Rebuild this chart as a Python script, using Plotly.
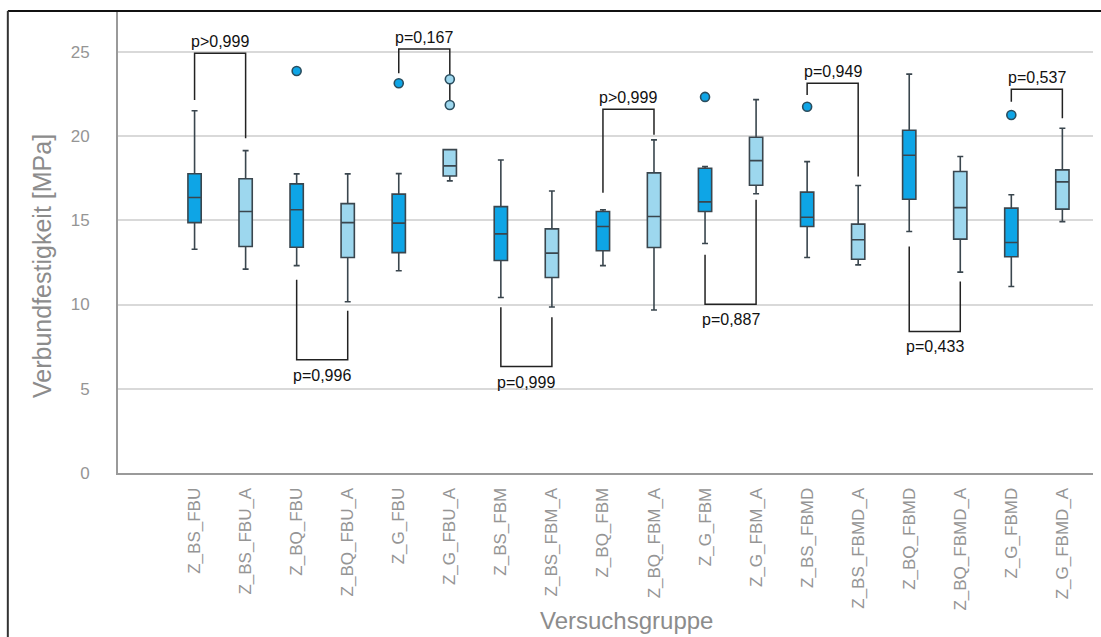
import plotly.graph_objects as go

categories = ["Z_BS_FBU", "Z_BS_FBU_A", "Z_BQ_FBU", "Z_BQ_FBU_A", "Z_G_FBU", "Z_G_FBU_A",
              "Z_BS_FBM", "Z_BS_FBM_A", "Z_BQ_FBM", "Z_BQ_FBM_A", "Z_G_FBM", "Z_G_FBM_A",
              "Z_BS_FBMD", "Z_BS_FBMD_A", "Z_BQ_FBMD", "Z_BQ_FBMD_A", "Z_G_FBMD", "Z_G_FBMD_A"]
upper = [21.5, 19.13, 17.75, 17.75, 17.77, 19.19, 18.58, 16.74, 15.62, 19.77, 18.19, 22.16,
         18.48, 17.06, 23.67, 18.78, 16.51, 20.46]
q3 = [17.76, 17.46, 17.16, 15.99, 16.55, 19.19, 15.81, 14.49, 15.52, 17.81, 18.09, 19.93,
      16.67, 14.77, 20.34, 17.89, 15.72, 17.99]
median = [16.35, 15.52, 15.62, 14.86, 14.83, 18.23, 14.19, 13.05, 14.63, 15.22, 16.09, 18.54,
          15.18, 13.84, 18.86, 15.75, 13.68, 17.28]
q1 = [14.86, 13.44, 13.40, 12.79, 13.08, 17.63, 12.61, 11.60, 13.19, 13.38, 15.52, 17.08,
      14.63, 12.69, 16.25, 13.88, 12.83, 15.66]
lower = [13.28, 12.10, 12.31, 10.16, 12.00, 17.34, 10.42, 9.85, 12.31, 9.67, 13.62, 16.57,
         12.79, 12.35, 14.33, 11.92, 11.07, 14.92]

# outliers: (category index, value)
outlier_idx = [2, 4, 5, 5, 10, 12, 16]
outlier_val = [23.86, 23.13, 23.37, 21.84, 22.32, 21.74, 21.25]

# comparison brackets
br_left = [0, 2, 4, 6, 8, 10, 12, 14, 16]
br_right = [1, 3, 5, 7, 9, 11, 13, 15, 17]
br_level = [24.91, 6.72, 25.17, 6.32, 21.59, 10.01, 23.13, 8.40, 22.78]
br_left_end = [22.14, 11.47, 23.72, 9.84, 16.64, 12.95, 22.43, 13.44, 22.04]
br_right_end = [19.87, 9.63, 21.84, 9.25, 20.07, 16.21, 17.59, 11.36, 21.05]
br_above = [True, False, True, False, True, False, True, False, True]
br_text = ["p>0,999", "p=0,996", "p=0,167", "p=0,999", "p>0,999", "p=0,887", "p=0,949",
           "p=0,433", "p=0,537"]

y_ticks = [0, 5, 10, 15, 20, 25]

DARK = "#0ea5e6"
LIGHT = "#9dd7ee"
EDGE = "#3a464e"
FONT = "Liberation Sans, Arial"

fig = go.Figure()

for grp, color in [(0, DARK), (1, LIGHT)]:
    idx = [i for i in range(len(categories)) if i % 2 == grp]
    fig.add_trace(go.Box(
        x=idx,
        q1=[q1[i] for i in idx], median=[median[i] for i in idx], q3=[q3[i] for i in idx],
        lowerfence=[lower[i] for i in idx], upperfence=[upper[i] for i in idx],
        width=0.26, whiskerwidth=0.45, fillcolor=color,
        line=dict(color=EDGE, width=1.6), boxpoints=False, showlegend=False,
        hoverinfo="skip",
    ))

# bracket lines
for k in range(len(br_left)):
    xl, xr = br_left[k], br_right[k]
    fig.add_trace(go.Scatter(
        x=[xl, xl, xr, xr], y=[br_left_end[k], br_level[k], br_level[k], br_right_end[k]],
        mode="lines", line=dict(color="#222222", width=1.5), showlegend=False, hoverinfo="skip"))
    fig.add_annotation(
        x=(xl + xr) / 2, y=br_level[k], text=br_text[k], showarrow=False,
        yanchor="bottom" if br_above[k] else "top", yshift=1 if br_above[k] else -5,
        font=dict(family=FONT, size=16, color="#111111"))

# outliers
fig.add_trace(go.Scatter(
    x=outlier_idx, y=outlier_val, mode="markers",
    marker=dict(size=9, color=[DARK if i % 2 == 0 else LIGHT for i in outlier_idx],
                line=dict(color="#2a4d5e", width=1.6)),
    showlegend=False, hoverinfo="skip"))

fig.update_layout(
    width=1101, height=637,
    margin=dict(l=118, r=8, t=12, b=164),
    paper_bgcolor="white", plot_bgcolor="white",
    font=dict(family=FONT, color="#8c8c8c"),
    xaxis=dict(range=[-1.5, 17.6], tickvals=list(range(len(categories))), ticktext=categories,
               tickangle=-90, tickfont=dict(size=17, color="#959595"),
               showgrid=False, zeroline=False, showline=True, linecolor="#9a9a9a", linewidth=2,
               ticks="outside", ticklen=6, tickcolor="rgba(0,0,0,0)"),
    yaxis=dict(range=[0, 27.36], tickvals=y_ticks, tickfont=dict(size=17, color="#959595"),
               showgrid=True, gridcolor="#d9d9d9", gridwidth=2, zeroline=False,
               showline=True, linecolor="#9a9a9a", linewidth=2,
               ticks="outside", ticklen=23, tickcolor="rgba(0,0,0,0)"),
    shapes=[
        dict(type="line", xref="paper", yref="paper", x0=-0.113, x1=1.01, y0=1.002, y1=1.002,
             line=dict(color="#111111", width=2)),
        dict(type="line", xref="paper", yref="paper", x0=-0.113, x1=-0.113, y0=1.002, y1=-0.36,
             line=dict(color="#333333", width=2)),
    ],
)

fig.add_annotation(xref="paper", yref="paper", x=-0.078, y=0.449, text="Verbundfestigkeit [MPa]",
                   textangle=-90, showarrow=False, xanchor="center", yanchor="middle",
                   font=dict(family=FONT, size=25, color="#8c8c8c"))
fig.add_annotation(xref="paper", yref="paper", x=0.522, y=-0.319, text="Versuchsgruppe",
                   showarrow=False, xanchor="center", yanchor="middle",
                   font=dict(family=FONT, size=24, color="#8c8c8c"))

fig.write_html("out.html")
